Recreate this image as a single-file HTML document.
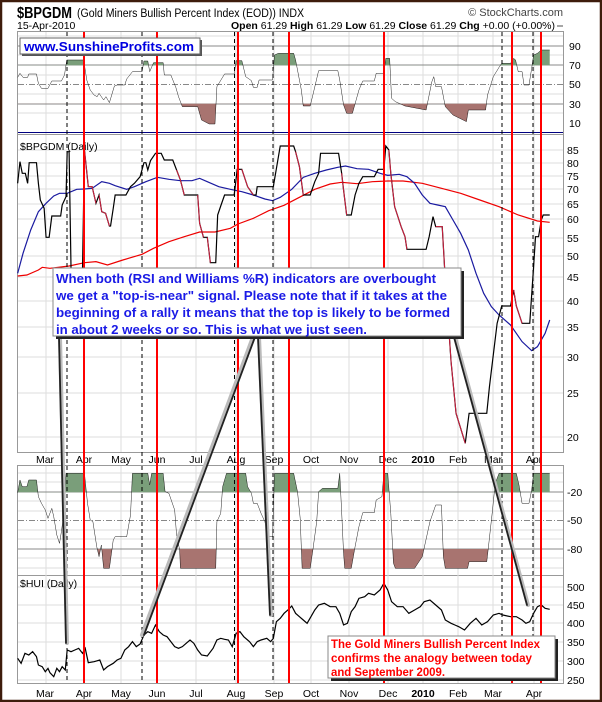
<!DOCTYPE html>
<html><head><meta charset="utf-8"><style>
html,body{margin:0;padding:0;background:#fff}
svg{display:block}
text{font-family:"Liberation Sans",Arial,sans-serif}
</style></head><body>
<svg width="602" height="702" viewBox="0 0 602 702" xmlns="http://www.w3.org/2000/svg">
<defs>
<clipPath id="aTop70"><rect x="0" y="0" width="1600" height="196"/></clipPath>
<clipPath id="bTop30"><rect x="0" y="311" width="1600" height="200"/></clipPath>
<clipPath id="aW20"><rect x="0" y="0" width="1600" height="127"/></clipPath>
<clipPath id="bW80"><rect x="0" y="297" width="1600" height="200"/></clipPath>
</defs>
<rect x="0" y="0" width="602" height="702" fill="#fff"/>
<text x="17" y="18" font-size="16" font-weight="bold" textLength="55" lengthAdjust="spacingAndGlyphs">$BPGDM</text>
<text x="77" y="17" font-size="11.5" textLength="227" lengthAdjust="spacingAndGlyphs">(Gold Miners Bullish Percent Index (EOD))  INDX</text>
<text x="563" y="16" font-size="11" fill="#444" text-anchor="end">© StockCharts.com</text>
<text x="17" y="29" font-size="10.5">15-Apr-2010</text>
<text x="555" y="29" font-size="10.5" text-anchor="end"><tspan font-weight="bold">Open</tspan> 61.29  <tspan font-weight="bold">High</tspan> 61.29  <tspan font-weight="bold">Low</tspan> 61.29  <tspan font-weight="bold">Close</tspan> 61.29  <tspan font-weight="bold">Chg</tspan> +0.00 (+0.00%)</text>
<line x1="557" y1="26" x2="563" y2="26" stroke="#888" stroke-width="1.5"/>

<g fill="none" stroke="#999" stroke-width="1">
<rect x="17.5" y="31.5" width="546" height="103"/>
<rect x="17.5" y="134.5" width="546" height="318"/>
<rect x="17.5" y="465.5" width="546" height="110"/>
<rect x="17.5" y="575.5" width="546" height="108"/>
</g>
<g stroke="#ddd" stroke-width="1">
<path d="M46 32V134M84 32V134M121 32V134M157 32V134M196 32V134M236 32V134M274 32V134M311 32V134M349 32V134M388 32V134M423 32V134M458 32V134M493 32V134M534 32V134"/>
<path d="M46 135V452M84 135V452M121 135V452M157 135V452M196 135V452M236 135V452M274 135V452M311 135V452M349 135V452M388 135V452M423 135V452M458 135V452M493 135V452M534 135V452"/>
<path d="M46 466V683M84 466V683M121 466V683M157 466V683M196 466V683M236 466V683M274 466V683M311 466V683M349 466V683M388 466V683M423 466V683M458 466V683M493 466V683M534 466V683"/>
</g>
<g stroke="#ddd"><path d="M18 36H563M18 55H563M18 75H563M18 94H563M18 113H563"/></g>
<g stroke="#888"><path d="M18 46H563M18 65H563M18 104H563"/></g>
<path d="M18 84.5H563" stroke="#888" stroke-dasharray="6,2,1,2"/>
<path d="M18 132.5H563" stroke="#000080" stroke-width="1"/>
<g stroke="#ddd"><path d="M18 150H563M18 163H563M18 176H563M18 189H563M18 204H563M18 219H563M18 238H563M18 256H563M18 277H563M18 301H563M18 327H563M18 357H563M18 393H563M18 437H563"/></g>
<g stroke="#ddd"><path d="M18 473H563M18 482H563M18 501H563M18 511H563M18 530H563M18 539H563M18 558H563M18 568H563"/></g>
<g stroke="#888"><path d="M18 492H563M18 549H563"/></g>
<path d="M18 520.5H563" stroke="#888" stroke-dasharray="6,2,1,2"/>
<g stroke="#ddd"><path d="M18 587H563M18 605H563M18 623H563M18 642H563M18 661H563M18 680H563"/></g>

<g font-size="10.5" fill="#000">
<text x="569" y="50">90</text><text x="569" y="69">70</text><text x="569" y="88">50</text><text x="569" y="108">30</text><text x="569" y="127">10</text>
<text x="567" y="154">85</text><text x="567" y="167">80</text><text x="567" y="180">75</text><text x="567" y="193">70</text><text x="567" y="208">65</text><text x="567" y="223">60</text><text x="567" y="242">55</text><text x="567" y="260">50</text><text x="567" y="281">45</text><text x="567" y="305">40</text><text x="567" y="331">35</text><text x="567" y="361">30</text><text x="567" y="397">25</text><text x="567" y="441">20</text>
<text x="567" y="496">-20</text><text x="567" y="524">-50</text><text x="567" y="553">-80</text>
<text x="567" y="591">500</text><text x="567" y="609">450</text><text x="567" y="627">400</text><text x="567" y="646">350</text><text x="567" y="665">300</text><text x="567" y="684">250</text>
</g>
<g font-size="10.5" text-anchor="middle">
<text x="45" y="463">Mar</text><text x="84" y="463">Apr</text><text x="121" y="463">May</text><text x="157" y="463">Jun</text><text x="196" y="463">Jul</text><text x="236" y="463">Aug</text><text x="274" y="463">Sep</text><text x="311" y="463">Oct</text><text x="349" y="463">Nov</text><text x="388" y="463">Dec</text><text x="423" y="463" font-weight="bold">2010</text><text x="458" y="463">Feb</text><text x="493" y="463">Mar</text><text x="534" y="463">Apr</text>
<text x="45" y="697">Mar</text><text x="84" y="697">Apr</text><text x="121" y="697">May</text><text x="157" y="697">Jun</text><text x="196" y="697">Jul</text><text x="236" y="697">Aug</text><text x="274" y="697">Sep</text><text x="311" y="697">Oct</text><text x="349" y="697">Nov</text><text x="388" y="697">Dec</text><text x="423" y="697" font-weight="bold">2010</text><text x="458" y="697">Feb</text><text x="493" y="697">Mar</text><text x="534" y="697">Apr</text>
</g>
<text x="20" y="150" font-size="10.5">$BPGDM (Daily)</text>
<text x="20" y="587" font-size="10.5">$HUI (Daily)</text>

<g transform="scale(0.38388,0.33333)">
<path id="rsi" d="M46,232 L52,220 60,232 72,232 75,222 95,222 100,250 108,265 125,265 135,243 160,243 168,225 174,180 218,180 226,240 235,270 245,285 253,290 258,280 270,300 276,290 285,308 298,258 305,255 325,255 330,237 345,215 370,215 375,183 385,183 390,215 400,188 425,188 428,225 445,225 458,262 465,290 475,320 515,320 525,360 545,372 560,372 565,260 585,222 610,222 615,182 630,182 640,230 655,242 660,262 670,262 675,240 710,240 715,165 725,160 765,160 770,180 785,270 790,318 808,318 815,285 830,212 880,212 885,240 895,315 903,340 918,340 935,270 945,243 975,243 980,220 1000,220 1005,175 1015,175 1020,295 1030,305 1055,318 1110,330 1125,245 1130,230 1135,260 1150,260 1160,320 1180,345 1210,362 1215,365 1220,330 1265,330 1270,285 1285,230 1300,202 1307,190 1330,190 1338,175 1343,180 1350,215 1360,215 1365,255 1378,255 1385,205 1390,165 1400,160 1410,150 1432,150" fill="none"/>
<path d="M46,232 L52,220 60,232 72,232 75,222 95,222 100,250 108,265 125,265 135,243 160,243 168,225 174,180 218,180 226,240 235,270 245,285 253,290 258,280 270,300 276,290 285,308 298,258 305,255 325,255 330,237 345,215 370,215 375,183 385,183 390,215 400,188 425,188 428,225 445,225 458,262 465,290 475,320 515,320 525,360 545,372 560,372 565,260 585,222 610,222 615,182 630,182 640,230 655,242 660,262 670,262 675,240 710,240 715,165 725,160 765,160 770,180 785,270 790,318 808,318 815,285 830,212 880,212 885,240 895,315 903,340 918,340 935,270 945,243 975,243 980,220 1000,220 1005,175 1015,175 1020,295 1030,305 1055,318 1110,330 1125,245 1130,230 1135,260 1150,260 1160,320 1180,345 1210,362 1215,365 1220,330 1265,330 1270,285 1285,230 1300,202 1307,190 1330,190 1338,175 1343,180 1350,215 1360,215 1365,255 1378,255 1385,205 1390,165 1400,160 1410,150 1432,150 L1432,196 L46,196Z" fill="#7a9e7a" clip-path="url(#aTop70)"/>
<path d="M46,232 L52,220 60,232 72,232 75,222 95,222 100,250 108,265 125,265 135,243 160,243 168,225 174,180 218,180 226,240 235,270 245,285 253,290 258,280 270,300 276,290 285,308 298,258 305,255 325,255 330,237 345,215 370,215 375,183 385,183 390,215 400,188 425,188 428,225 445,225 458,262 465,290 475,320 515,320 525,360 545,372 560,372 565,260 585,222 610,222 615,182 630,182 640,230 655,242 660,262 670,262 675,240 710,240 715,165 725,160 765,160 770,180 785,270 790,318 808,318 815,285 830,212 880,212 885,240 895,315 903,340 918,340 935,270 945,243 975,243 980,220 1000,220 1005,175 1015,175 1020,295 1030,305 1055,318 1110,330 1125,245 1130,230 1135,260 1150,260 1160,320 1180,345 1210,362 1215,365 1220,330 1265,330 1270,285 1285,230 1300,202 1307,190 1330,190 1338,175 1343,180 1350,215 1360,215 1365,255 1378,255 1385,205 1390,165 1400,160 1410,150 1432,150 L1432,311 L46,311Z" fill="#a87470" clip-path="url(#bTop30)"/>
<use href="#rsi" stroke="#000" stroke-width="1.2" vector-effect="non-scaling-stroke"/>
</g>

<g transform="translate(0,140) scale(0.38388,0.33333)" fill="none" stroke-width="1.2">
<path vector-effect="non-scaling-stroke" stroke="#e00" d="M46,408 L70,405 100,390 110,382 130,385 180,378 220,368 250,365 280,375 320,360 370,343 400,325 440,305 480,290 520,276 560,276 600,265 620,252 660,235 700,212 740,196 780,172 820,148 860,132 890,127 930,131 970,125 1010,123 1050,123 1100,130 1150,145 1200,160 1250,180 1300,200 1350,225 1400,243 1432,247"/>
<path vector-effect="non-scaling-stroke" stroke="#1a1aa0" d="M46,400 L60,340 80,270 100,215 120,190 140,168 155,160 175,160 200,148 220,147 240,145 265,125 285,130 300,137 330,148 350,140 380,125 410,112 440,118 470,122 500,122 520,115 540,125 570,140 600,148 630,155 660,165 690,177 710,182 730,172 760,148 790,112 820,100 850,90 880,82 900,78 930,86 960,88 990,100 1010,106 1040,103 1060,110 1080,130 1100,165 1120,190 1140,195 1160,200 1180,240 1200,280 1220,330 1240,400 1260,460 1280,500 1300,525 1330,555 1360,605 1385,632 1400,620 1420,580 1432,540"/>
<path vector-effect="non-scaling-stroke" stroke="#000" d="M46,130 L52,65 58,100 66,100 72,130 76,68 95,68 100,130 105,180 115,205 120,292 128,292 135,228 158,228 162,195 172,170 175,35 180,35 185,385 215,385 220,30 230,140 240,140 250,190 258,165 265,215 275,220 285,258 288,258 295,205 300,165 328,165 340,140 350,130 365,110 375,68 380,68 385,90 392,62 405,40 420,40 428,60 450,60 460,90 470,120 480,165 515,165 520,250 530,292 540,292 548,368 562,368 567,225 575,198 585,165 610,165 618,88 630,88 645,140 660,165 667,165 670,140 712,140 730,18 765,18 770,35 780,80 790,165 808,165 820,125 830,100 835,40 882,40 890,100 895,150 903,225 915,225 925,165 935,130 945,110 975,110 985,88 1000,88 1005,18 1013,30 1018,100 1028,200 1045,260 1055,290 1060,328 1110,328 1118,290 1128,230 1135,260 1152,260 1158,380 1175,665 1188,820 1212,910 1222,820 1268,820 1275,740 1295,550 1307,498 1330,498 1338,450 1345,498 1360,550 1380,550 1390,380 1395,290 1403,290 1410,240 1415,225 1432,225"/>
<g stroke="#d02040" stroke-width="1">
<path vector-effect="non-scaling-stroke" d="M220,30 L230,140 240,140 250,190 M258,165 L265,215 275,220 285,258"/>
<path vector-effect="non-scaling-stroke" d="M460,90 L470,120 480,165 M515,165 L520,250 530,292 M540,292 L548,368"/>
<path vector-effect="non-scaling-stroke" d="M630,88 L645,140 660,165"/>
<path vector-effect="non-scaling-stroke" d="M770,35 L780,80 790,165"/>
<path vector-effect="non-scaling-stroke" d="M890,100 L895,150 903,225"/>
<path vector-effect="non-scaling-stroke" d="M1013,30 L1018,100 1028,200 1045,260 1055,290 1060,328"/>
<path vector-effect="non-scaling-stroke" d="M1135,260 L1152,260 1158,380 1175,665 1188,820 1212,910"/>
<path vector-effect="non-scaling-stroke" d="M1338,450 L1345,498 1360,550"/>
</g>
</g>

<g transform="translate(0,450) scale(0.38388,0.33333)">
<path id="wr" fill="none" d="M46,128 L52,90 58,110 70,110 75,90 95,90 100,140 108,160 118,180 125,205 135,175 140,200 148,255 155,280 160,245 165,200 172,70 220,70 228,160 235,210 242,215 252,290 258,320 264,285 270,355 285,355 295,270 300,260 330,260 340,195 345,70 385,70 390,105 395,70 425,70 430,125 440,130 455,180 460,255 468,300 470,355 562,355 565,215 575,190 580,110 590,70 640,70 645,110 655,130 660,160 670,160 680,190 690,215 698,260 710,260 715,70 765,70 775,125 782,205 787,355 808,355 815,300 825,215 830,125 840,115 880,115 885,70 890,185 895,310 898,355 915,355 925,290 935,230 945,188 975,188 980,150 995,140 1000,70 1010,70 1018,190 1025,340 1030,355 1080,355 1100,320 1120,215 1135,165 1150,165 1155,320 1160,355 1218,355 1222,335 1268,335 1272,295 1283,180 1290,100 1300,70 1345,70 1352,105 1360,160 1378,160 1385,120 1390,70 1432,70"/>
<path fill="#7a9e7a" clip-path="url(#aW20)" d="M46,128 L52,90 58,110 70,110 75,90 95,90 100,140 108,160 118,180 125,205 135,175 140,200 148,255 155,280 160,245 165,200 172,70 220,70 228,160 235,210 242,215 252,290 258,320 264,285 270,355 285,355 295,270 300,260 330,260 340,195 345,70 385,70 390,105 395,70 425,70 430,125 440,130 455,180 460,255 468,300 470,355 562,355 565,215 575,190 580,110 590,70 640,70 645,110 655,130 660,160 670,160 680,190 690,215 698,260 710,260 715,70 765,70 775,125 782,205 787,355 808,355 815,300 825,215 830,125 840,115 880,115 885,70 890,185 895,310 898,355 915,355 925,290 935,230 945,188 975,188 980,150 995,140 1000,70 1010,70 1018,190 1025,340 1030,355 1080,355 1100,320 1120,215 1135,165 1150,165 1155,320 1160,355 1218,355 1222,335 1268,335 1272,295 1283,180 1290,100 1300,70 1345,70 1352,105 1360,160 1378,160 1385,120 1390,70 1432,70 L1432,127 46,127Z"/>
<path fill="#a87470" clip-path="url(#bW80)" d="M46,128 L52,90 58,110 70,110 75,90 95,90 100,140 108,160 118,180 125,205 135,175 140,200 148,255 155,280 160,245 165,200 172,70 220,70 228,160 235,210 242,215 252,290 258,320 264,285 270,355 285,355 295,270 300,260 330,260 340,195 345,70 385,70 390,105 395,70 425,70 430,125 440,130 455,180 460,255 468,300 470,355 562,355 565,215 575,190 580,110 590,70 640,70 645,110 655,130 660,160 670,160 680,190 690,215 698,260 710,260 715,70 765,70 775,125 782,205 787,355 808,355 815,300 825,215 830,125 840,115 880,115 885,70 890,185 895,310 898,355 915,355 925,290 935,230 945,188 975,188 980,150 995,140 1000,70 1010,70 1018,190 1025,340 1030,355 1080,355 1100,320 1120,215 1135,165 1150,165 1155,320 1160,355 1218,355 1222,335 1268,335 1272,295 1283,180 1290,100 1300,70 1345,70 1352,105 1360,160 1378,160 1385,120 1390,70 1432,70 L1432,297 46,297Z"/>
<use href="#wr" stroke="#000" stroke-width="1.2" vector-effect="non-scaling-stroke"/>
<path fill="none" stroke="#000" stroke-width="1.2" vector-effect="non-scaling-stroke" d="M46,625 L55,640 65,610 75,615 85,605 95,620 100,645 110,650 118,665 125,655 130,668 140,680 148,655 155,665 162,650 170,660 175,600 185,605 195,600 205,595 215,610 222,595 230,638 245,635 260,630 270,660 280,650 295,640 305,630 315,625 325,600 335,590 345,575 355,590 365,582 375,555 385,545 395,550 405,525 415,545 425,555 435,560 445,575 455,590 465,595 475,590 485,580 495,570 505,580 515,600 525,615 540,618 555,595 565,570 575,565 585,568 595,570 605,590 615,550 625,545 635,560 650,575 660,590 670,575 680,570 695,565 705,575 712,565 720,515 730,505 740,490 750,480 760,468 770,490 780,500 790,510 800,520 810,500 820,480 830,465 845,460 860,470 875,470 885,490 895,525 905,520 915,485 925,470 935,445 950,440 960,430 975,435 990,420 1000,400 1010,420 1020,455 1035,470 1050,470 1065,490 1080,480 1095,470 1105,455 1120,450 1135,465 1150,480 1160,510 1175,520 1185,525 1195,530 1210,540 1225,520 1240,505 1255,525 1270,515 1285,495 1300,490 1310,495 1330,500 1345,500 1360,510 1370,520 1380,515 1390,490 1400,470 1410,465 1420,475 1432,478"/>
</g>

<g stroke="#000" stroke-width="1" stroke-dasharray="4,3">
<path d="M67 32V683M142 32V683M234.5 32V683M273 32V683M502 32V683M533 32V683"/>
</g>
<g stroke="#f00" stroke-width="2">
<path d="M84 32V683M157 32V683M238 32V683M289 32V683M384 32V683M512 32V683M541 32V683"/>
</g>

<g stroke-linecap="round">
<path d="M60 337L67 643M253 337L142 635M259 337L271 615M455 337L528 605" stroke="#bbb" stroke-width="4"/>
<path d="M59 337L66 643M255 337L144 635M258 337L270 615M454 337L527 605" stroke="#222" stroke-width="1.8"/>
</g>

<rect x="22" y="40" width="180" height="16" fill="#555"/>
<rect x="20" y="38" width="180" height="16" fill="#fff" stroke="#666"/>
<text x="24" y="51" font-size="12.5" font-weight="bold" fill="#0000e0" textLength="170" lengthAdjust="spacingAndGlyphs">www.SunshineProfits.com</text>

<rect x="56" y="271" width="408" height="68" fill="#222"/>
<rect x="53" y="268" width="408" height="68" fill="#fff" stroke="#888"/>
<g font-size="12.5" font-weight="bold" fill="#1a1ae6">
<text x="56" y="283" textLength="380" lengthAdjust="spacingAndGlyphs">When both (RSI and Williams %R) indicators are overbought</text>
<text x="56" y="300" textLength="391" lengthAdjust="spacingAndGlyphs">we get a "top-is-near" signal. Please note that if it takes at the</text>
<text x="56" y="317" textLength="394" lengthAdjust="spacingAndGlyphs">beginning of a rally it means that the top is likely to be formed</text>
<text x="56" y="334" textLength="311" lengthAdjust="spacingAndGlyphs">in about 2 weeks or so. This is what we just seen.</text>
</g>

<rect x="331" y="639" width="227" height="42" fill="#222"/>
<rect x="328" y="636" width="227" height="42" fill="#fff" stroke="#888"/>
<g font-size="11.5" font-weight="bold" fill="#f00">
<text x="331" y="648" textLength="209" lengthAdjust="spacingAndGlyphs">The Gold Miners Bullish Percent Index</text>
<text x="331" y="662" textLength="201" lengthAdjust="spacingAndGlyphs">confirms the analogy between today</text>
<text x="331" y="676" textLength="114" lengthAdjust="spacingAndGlyphs">and September 2009.</text>
</g>

<rect x="1" y="1" width="600" height="700" fill="none" stroke="#3e1c0c" stroke-width="2.5"/>
</svg>
</body></html>
